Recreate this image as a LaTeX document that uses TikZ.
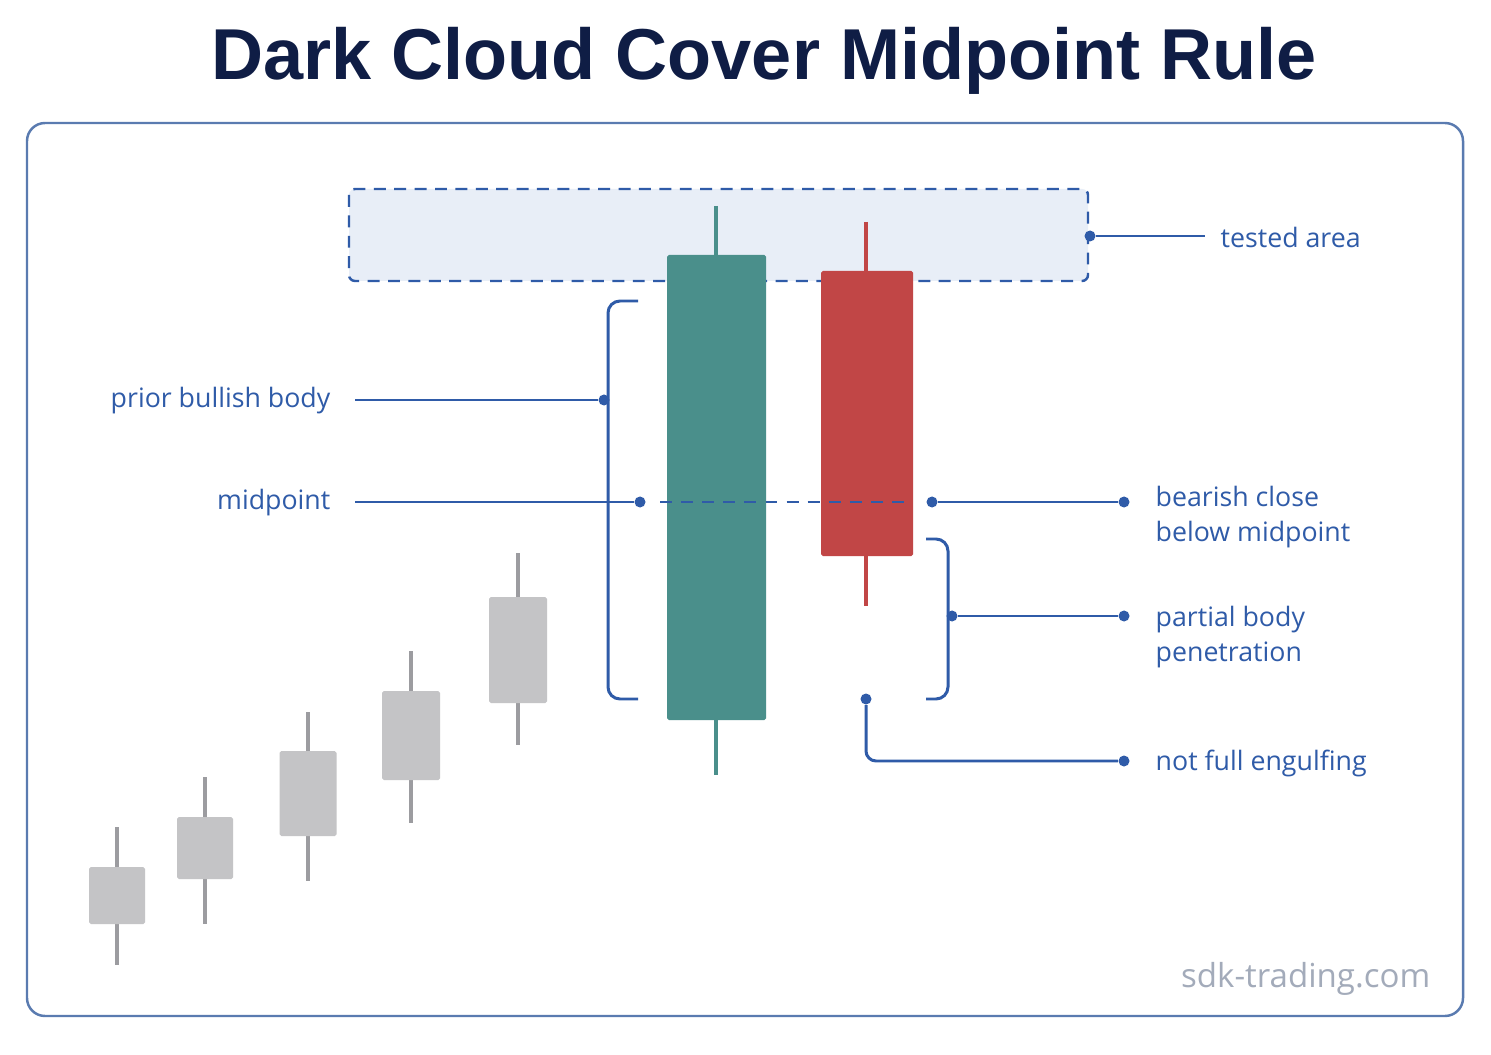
\documentclass[tikz,border=0pt]{standalone}
\usepackage{fontspec}
\setmainfont{Open Sans}
\newfontfamily\titlefont{Liberation Sans}
\usepackage{xcolor}
\usetikzlibrary{positioning}
\definecolor{dcnavy}{HTML}{0F1D45}
\definecolor{dcblue}{HTML}{2F5BA8}
\definecolor{dcframe}{HTML}{5A7BB0}
\definecolor{dcteal}{HTML}{4A8F8B}
\definecolor{dcred}{HTML}{C14646}
\definecolor{dcgray}{HTML}{C4C4C6}
\definecolor{dcwick}{HTML}{9C9CA0}
\definecolor{dczone}{HTML}{E8EEF7}
\definecolor{dcmark}{HTML}{A3ABBA}

\begin{document}
\begin{tikzpicture}[x=0.01cm, y=-0.01cm,
  frame/.style={draw=dcframe, line width=0.7pt, rounded corners=0.18cm, fill=white},
  zone/.style={draw=dcblue, fill=dczone, line width=0.7pt, dash pattern=on 3.4pt off 2.4pt, rounded corners=0.06cm},
  wick/.style={line width=0.9pt},
  body/.style={rounded corners=0.5pt},
  lead/.style={draw=dcblue, line width=0.85pt},
  bracket/.style={draw=dcblue, line width=0.85pt, rounded corners=0.12cm},
  dot/.style={circle, fill=dcblue, inner sep=0pt, minimum size=0.11cm},
  lbl/.style={text=dcblue, font=\fontsize{7.6}{10.2}\selectfont, inner sep=0pt, align=left},
]
  \useasboundingbox (0,0) rectangle (1491,1055);

  % title and frame
  \node[font=\titlefont\bfseries\fontsize{20.5}{24}\selectfont, text=dcnavy] (title) at (764,61) {Dark Cloud Cover Midpoint Rule};
  \draw[frame] (27,123) rectangle (1463,1016);

  % tested area
  \draw[zone] (349,189) rectangle (1088,281);

  % rising grey candles
  \foreach \cx/\wt/\bt/\bb/\wb/\hw in {117/827/867/924/965/28, 205/777/817/879/924/28,
      308/712/751/836/881/28.5, 411/651/691/780/823/29, 518/553/597/703/745/29} {
    \draw[wick, dcwick] (\cx,\wt) -- (\cx,\wb);
    \fill[body, dcgray] (\cx-\hw,\bt) rectangle (\cx+\hw,\bb);
  }

  % bullish candle
  \draw[wick, dcteal] (716,206) -- (716,775);
  \fill[body, dcteal] (667,255) rectangle (766,720);

  % bearish candle
  \draw[wick, dcred] (866,222) -- (866,606);
  \fill[body, dcred] (821,271) rectangle (913,556);

  % midpoint level
  \draw[lead, dash pattern=on 3.4pt off 2.6pt] (660,502) -- (912,502);

  % left labels
  \node[lbl, anchor=east] (prior) at (331,401) {prior bullish body};
  \node[lbl, anchor=east] (midtxt) at (331,503) {midpoint};

  \draw[bracket] (638,301) -- (608,301) -- (608,699) -- (638,699);
  \node[dot] (priordot) at (604,400) {};
  \node[dot] (middot) at (640,502) {};
  \draw[lead] (355,400) -- (priordot);
  \draw[lead] (355,502) -- (middot);

  % right labels
  \node[dot] (zonedot) at (1090,236) {};
  \node[lbl, anchor=west] (tested) at (1220,237) {tested area};
  \draw[lead] (zonedot) -- ([xshift=-0.15cm]tested.west |- zonedot);

  \node[dot] (closedot) at (932,502) {};
  \node[dot] (closeend) at (1124,502) {};
  \node[lbl, anchor=west] (closetxt) at (1155,517) {bearish close\\below midpoint};
  \draw[lead] (closedot) -- (closeend);

  \draw[bracket] (926,539) -- (948,539) -- (948,699) -- (926,699);
  \node[dot] (pendot) at (952,616) {};
  \node[dot] (penend) at (1124,616) {};
  \node[lbl, anchor=west] (pentxt) at (1155,637) {partial body\\penetration};
  \draw[lead] (pendot) -- (penend);

  \node[dot] (engdot) at (866,699) {};
  \node[dot] (engend) at (1124,761) {};
  \node[lbl, anchor=west] (engtxt) at (1155,763) {not full engulfing};
  \draw[lead, rounded corners=0.1cm] (engdot) |- (engend);

  % watermark
  \node[anchor=east, inner sep=0pt, text=dcmark, font=\fontsize{9.4}{11}\selectfont] (mark) at (1431,979) {sdk-trading.com};
\end{tikzpicture}
\end{document}
